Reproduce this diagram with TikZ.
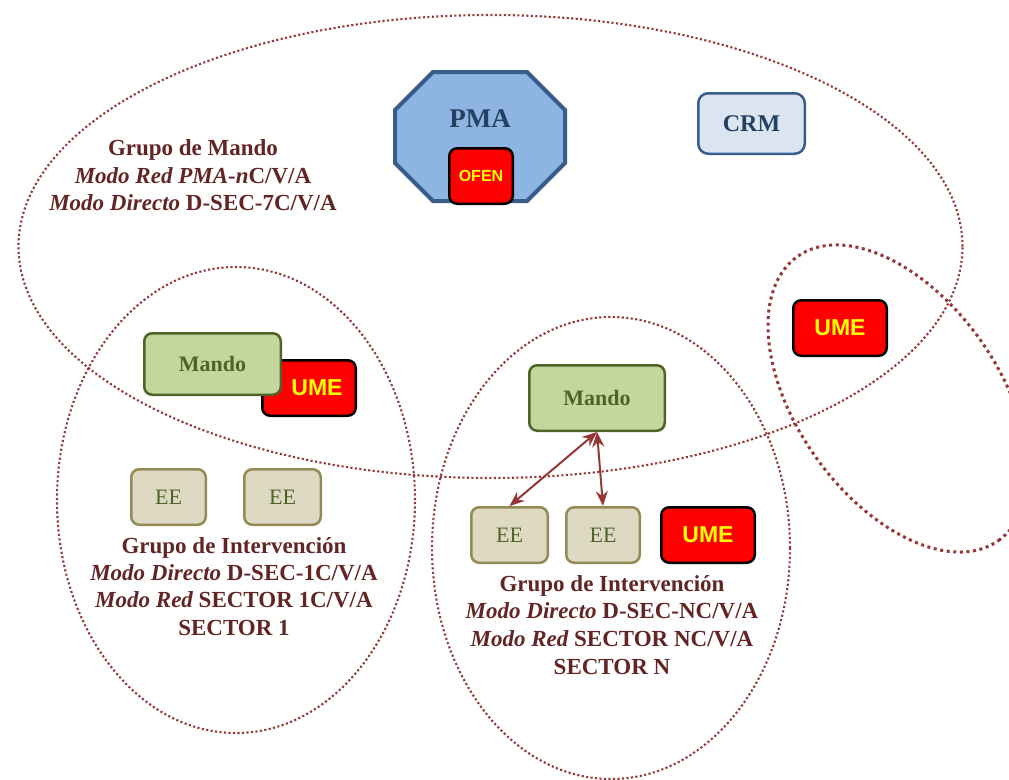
\documentclass[tikz,border=0pt]{standalone}
\usepackage{fontspec}
\setmainfont{Liberation Serif}
\newfontfamily\arialf{Liberation Sans}
\usetikzlibrary{arrows.meta}
\definecolor{ellcol}{HTML}{953735}
\definecolor{txtred}{HTML}{632523}
\definecolor{pmafill}{HTML}{8EB4E3}
\definecolor{blueline}{HTML}{385D8A}
\definecolor{bluetext}{HTML}{254061}
\definecolor{crmfill}{HTML}{DBE5F1}
\definecolor{mandofill}{HTML}{C3D69B}
\definecolor{mandoline}{HTML}{4F6228}
\definecolor{eefill}{HTML}{DDD9C3}
\definecolor{eeline}{HTML}{948A54}
\definecolor{umered}{HTML}{FF0000}
\definecolor{umeyellow}{HTML}{FFFF00}
\tikzset{
  grpell/.style={draw=ellcol, line width=2.1pt, dash pattern=on 2.1pt off 2.4pt},
  umeell/.style={draw=ellcol, line width=3pt, dash pattern=on 3pt off 3.6pt},
  box/.style={rounded corners=8pt, line width=2.5pt, inner sep=0pt, align=center},
  mando/.style={box, fill=mandofill, draw=mandoline, text=mandoline,
    font=\bfseries\fontsize{22}{24}\selectfont},
  ee/.style={box, fill=eefill, draw=eeline, text=mandoline,
    font=\fontsize{22}{24}\selectfont, minimum height=55.5pt},
  ume/.style={box, fill=umered, draw=black, text=umeyellow,
    font=\arialf\bfseries\fontsize{23}{24}\selectfont, minimum width=93.5pt, minimum height=55.5pt},
  grp/.style={anchor=base, text=txtred, font=\bfseries\fontsize{23}{27}\selectfont},
  link/.style={draw=ellcol, line width=2pt, {Stealth[length=15pt,width=12pt,inset=5pt]}-{Stealth[length=15pt,width=12pt,inset=5pt]}}
}
\begin{document}
\begin{tikzpicture}[x=1pt,y=-1pt]
\useasboundingbox (0,0) rectangle (1009,779);
% group ellipses
\draw[grpell] (490.5,246.5) ellipse [x radius=472pt, y radius=231.5pt];
\draw[grpell] (236,500) ellipse [x radius=179pt, y radius=233pt];
\draw[grpell] (611,548) ellipse [x radius=179pt, y radius=231pt];
\draw[umeell, rotate around={-54.7:(898,398.5)}] (898,398.5) ellipse [x radius=174pt, y radius=101pt];

% PMA octagon
\draw[fill=pmafill, draw=blueline, line width=4pt, line join=miter]
  (433,72) -- (527,72) -- (565,110) -- (565,163) -- (527,201) -- (433,201) -- (395,163) -- (395,110) -- cycle;
\node[text=bluetext, font=\bfseries\fontsize{27}{30}\selectfont] (pma) at (480,119) {PMA};
\node[box, fill=umered, draw=black, text=umeyellow, font=\arialf\bfseries\fontsize{16}{18}\selectfont,
  minimum width=63.5pt, minimum height=55.5pt] (ofen) at (481,176) {OFEN};

% CRM
\node[box, rounded corners=10pt, fill=crmfill, draw=blueline, text=bluetext,
  font=\bfseries\fontsize{24}{26}\selectfont, minimum width=106.5pt, minimum height=60.5pt] (crm) at (751.5,123.5) {CRM};

% UME right
\node[ume] (ume3) at (840,328) {UME};

% group de mando text
\node[grp] (gm1) at (193,155) {Grupo de Mando};
\node[grp] (gm2) at (193,183) {\itshape Modo Red PMA-n\upshape C/V/A};
\node[grp] (gm3) at (193,210) {\itshape Modo Directo\upshape{} D-SEC-7C/V/A};

% left group
\node[ume] (ume1) at (309,388) {\hspace*{16pt}UME};
\node[mando, minimum width=136.5pt, minimum height=61.5pt] (mando1) at (212.5,364) {Mando};
\node[ee, minimum width=74.5pt] (ee1) at (168.5,497) {EE};
\node[ee, minimum width=76.5pt] (ee2) at (282.5,497) {EE};
\node[grp] (gi1) at (234,553) {Grupo de Intervención};
\node[grp] (gi2) at (234,580) {\itshape Modo Directo\upshape{} D-SEC-1C/V/A};
\node[grp] (gi3) at (234,607) {\itshape Modo Red\upshape{} SECTOR 1C/V/A};
\node[grp] (gi4) at (234,635) {SECTOR 1};

% middle group
\node[mando, minimum width=135.5pt, minimum height=65.5pt] (mando2) at (597,398) {Mando};
\node[ee, minimum width=76.5pt] (ee3) at (509.5,535) {EE};
\node[ee, minimum width=73.5pt] (ee4) at (603,535) {EE};
\node[ume] (ume2) at (708,535) {UME};
\node[grp] (gn1) at (612,591) {Grupo de Intervención};
\node[grp] (gn2) at (612,618) {\itshape Modo Directo\upshape{} D-SEC-NC/V/A};
\node[grp] (gn3) at (612,646) {\itshape Modo Red\upshape{} SECTOR NC/V/A};
\node[grp] (gn4) at (612,674) {SECTOR N};

% links
\draw[link] (mando2.south) -- (ee3.north);
\draw[link] (mando2.south) -- (ee4.north);
\end{tikzpicture}
\end{document}
